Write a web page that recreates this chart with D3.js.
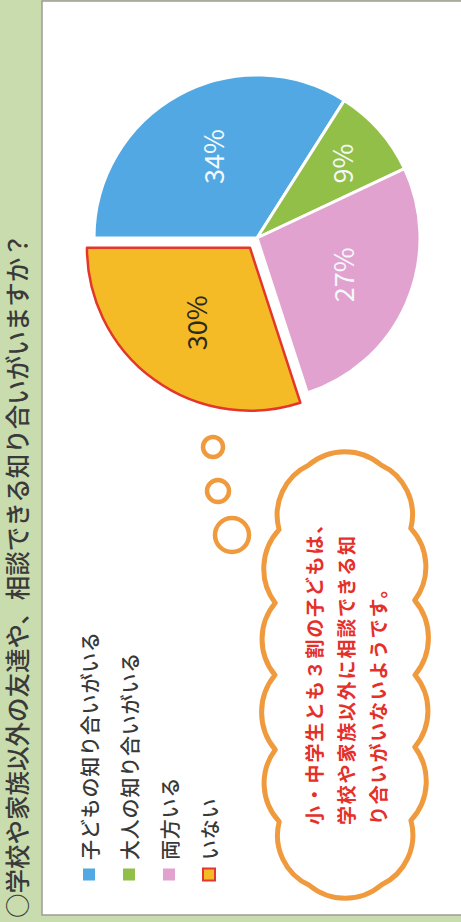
<!DOCTYPE html>
<html>
<head>
<meta charset="utf-8">
<title>相談できる知り合い</title>
<style>
  body { margin: 0; background: #c9dcae; }
  svg { display: block; }
  text { font-family: "Noto Sans CJK JP", "Noto Sans", sans-serif; }
</style>
</head>
<body>
<div id="chart"></div>
<script src="https://cdn.jsdelivr.net/npm/d3@7/dist/d3.min.js"></script>
<script>
// data
const title = '○学校や家族以外の友達や、相談できる知り合いがいますか？';
const categories = ['子どもの知り合いがいる', '大人の知り合いがいる', '両方いる', 'いない'];
const values = [34, 9, 27, 30];
const valueLabels = ['34%', '9%', '27%', '30%'];
const highlight = 'いない';
const noteLines = ['小・中学生とも３割の子どもは、', '学校や家族以外に相談できる知', 'り合いがいないようです。'];

// the page is printed sideways: draw it landscape, then turn it
const svgWidth = 461, svgHeight = 922;
const W = svgHeight, H = svgWidth;

const color = d3.scaleOrdinal()
  .domain(categories)
  .range(['#52a8e2', '#92bf47', '#e2a2cf', '#f4bb27']);
const red = '#e4362b';
const orange = '#f09a3e';

const svg = d3.select('#chart').append('svg')
  .attr('width', svgWidth)
  .attr('height', svgHeight);

svg.append('rect')
  .attr('width', svgWidth).attr('height', svgHeight)
  .attr('fill', '#c9dcae');

const g = svg.append('g')
  .attr('transform', 'translate(0,' + svgHeight + ') rotate(-90)');

// white panel
g.append('rect')
  .attr('x', 7).attr('y', 42)
  .attr('width', 914).attr('height', H)
  .attr('fill', '#fff')
  .attr('stroke', '#9c9c98')
  .attr('stroke-width', 1.5);

// title
g.append('text')
  .attr('x', 4).attr('y', 16)
  .attr('dominant-baseline', 'central')
  .attr('font-size', 24.5)
  .attr('font-weight', 500)
  .attr('fill', '#3a3a3a')
  .text(title);

// pie
const table = categories.map((c, i) => ({cat: c, value: values[i], label: valueLabels[i]}));
const cx = 684, cy = 257, r = 163, explode = 12;

const arcs = d3.pie().sort(null).value(d => d.value)(table);
const arc = d3.arc().innerRadius(0).outerRadius(r);

function offset(d) {
  if (d.data.cat !== highlight) return [0, 0];
  const a = (d.startAngle + d.endAngle) / 2;
  return [Math.sin(a) * explode, -Math.cos(a) * explode];
}

const pieG = g.append('g').attr('transform', 'translate(' + cx + ',' + cy + ')');

const slice = pieG.selectAll('g.slice')
  .data(arcs)
  .enter().append('g')
    .attr('class', 'slice')
    .attr('transform', d => 'translate(' + offset(d) + ')');

slice.append('path')
  .attr('d', arc)
  .attr('fill', d => color(d.data.cat))
  .attr('stroke', d => d.data.cat === highlight ? red : '#fff')
  .attr('stroke-width', d => d.data.cat === highlight ? 2.5 : 3)
  .attr('stroke-linejoin', 'round');

slice.append('text')
  .attr('transform', d => {
    const a = (d.startAngle + d.endAngle) / 2;
    const lr = d.data.value < 15 ? r * 0.69 : r * 0.57;
    return 'translate(' + (Math.sin(a) * lr) + ',' + (-Math.cos(a) * lr) + ')';
  })
  .attr('text-anchor', 'middle')
  .attr('dominant-baseline', 'central')
  .attr('font-family', '"Liberation Sans", Arial, sans-serif')
  .attr('font-size', 27)
  .attr('fill', d => d.data.cat === highlight ? '#2d2a22' : '#f4f8fb')
  .text(d => d.data.label);

// legend
const ly = d3.scalePoint().domain(categories).range([89, 209]);

const legend = g.selectAll('g.legend')
  .data(categories)
  .enter().append('g')
    .attr('class', 'legend')
    .attr('transform', d => 'translate(41,' + ly(d) + ')');

legend.append('rect')
  .attr('x', 0.5).attr('y', -6)
  .attr('width', 12).attr('height', 12)
  .attr('fill', d => color(d))
  .attr('stroke', d => d === highlight ? red : 'none')
  .attr('stroke-width', 2);

legend.append('text')
  .attr('x', 21).attr('y', 0)
  .attr('dominant-baseline', 'central')
  .attr('font-size', 20)
  .attr('letter-spacing', 0.8)
  .attr('font-weight', 500)
  .attr('fill', '#383838')
  .text(d => d);

// thought bubbles
const bubbles = [[475, 213, 10], [431, 218, 11], [387, 232, 17]];
g.selectAll('circle.bubble')
  .data(bubbles)
  .enter().append('circle')
    .attr('class', 'bubble')
    .attr('cx', d => d[0]).attr('cy', d => d[1]).attr('r', d => d[2])
    .attr('fill', '#fff')
    .attr('stroke', orange)
    .attr('stroke-width', 4.5);

// cloud: points on a rounded box, joined by outward arcs
function cloudPath(ccx, ccy, a, b, n) {
  const dense = d3.range(0, 721).map(i => {
    const t = i / 720 * 2 * Math.PI;
    const c = Math.cos(t), s = Math.sin(t);
    return [ccx + a * Math.sign(c) * Math.pow(Math.abs(c), 0.5),
            ccy + b * Math.sign(s) * Math.pow(Math.abs(s), 0.5)];
  });
  const len = [0];
  for (let i = 1; i < dense.length; i++) {
    len.push(len[i - 1] + Math.hypot(dense[i][0] - dense[i - 1][0], dense[i][1] - dense[i - 1][1]));
  }
  const total = len[len.length - 1];
  const pts = [];
  let j = 0;
  for (let k = 0; k < n; k++) {
    const target = (k + 0.5) / n * total;
    while (len[j + 1] < target) j++;
    pts.push(dense[j]);
  }
  let p = 'M' + pts[0][0] + ',' + pts[0][1];
  for (let k = 1; k <= n; k++) {
    const q = pts[k % n], o = pts[k - 1];
    const rr = Math.hypot(q[0] - o[0], q[1] - o[1]) * 0.78;
    p += 'A' + rr + ',' + rr + ' 0 0 1 ' + q[0] + ',' + q[1];
  }
  return p + 'Z';
}

g.append('path')
  .attr('d', cloudPath(247, 345, 214, 70, 14))
  .attr('fill', '#fff')
  .attr('stroke', orange)
  .attr('stroke-width', 5)
  .attr('stroke-linejoin', 'round');

g.selectAll('text.note')
  .data(noteLines)
  .enter().append('text')
    .attr('class', 'note')
    .attr('x', 97)
    .attr('y', (d, i) => 313 + i * 32)
    .attr('dominant-baseline', 'central')
    .attr('font-size', 19)
    .attr('font-weight', 700)
    .attr('letter-spacing', 1.8)
    .attr('fill', '#e5302a')
    .text(d => d);
</script>
</body>
</html>
